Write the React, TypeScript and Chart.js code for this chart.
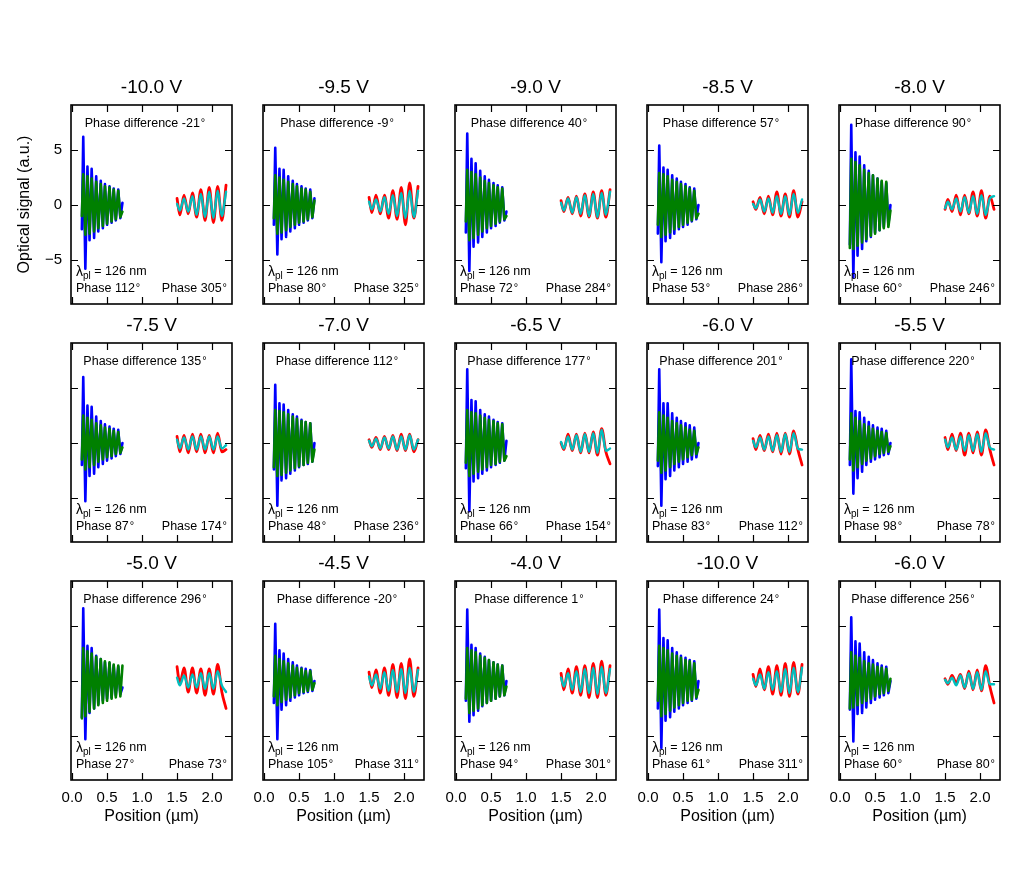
import React, { useEffect, useRef } from "react";
import { Chart, registerables } from "chart.js";

Chart.register(...registerables);

// Panel headings and annotations, row by row
const VOLTAGES = ["-10.0 V", "-9.5 V", "-9.0 V", "-8.5 V", "-8.0 V", "-7.5 V", "-7.0 V", "-6.5 V", "-6.0 V", "-5.5 V", "-5.0 V", "-4.5 V", "-4.0 V", "-10.0 V", "-6.0 V"];
const PHASE_DIFF = [-21, -9, 40, 57, 90, 135, 112, 177, 201, 220, 296, -20, 1, 24, 256];
const PHASE_NEAR = [112, 80, 72, 53, 60, 87, 48, 66, 83, 98, 27, 105, 94, 61, 60];
const PHASE_FAR = [305, 325, 284, 286, 246, 174, 236, 154, 112, 78, 73, 311, 301, 311, 80];
const LAMBDA_PL_NM = 126;

const X_TICKS = [0, 0.5, 1.0, 1.5, 2.0];
const Y_TICKS = [-5, 0, 5];

// Positions (µm) of the sampled extrema of the near-field and far-field traces
const NEAR_X = [0.14, 0.16, 0.19, 0.22, 0.25, 0.28, 0.315, 0.345, 0.375, 0.41, 0.44, 0.47, 0.5, 0.535, 0.565, 0.595, 0.625, 0.66, 0.69, 0.72];
const FAR_X = [1.5, 1.54, 1.6, 1.66, 1.72, 1.78, 1.84, 1.9, 1.96, 2.02, 2.08, 2.14, 2.2];

// Measured near-field signal (blue)
const BLUE = [
  [-2.2, 6.2, -5.8, 3.5, -3.2, 3.3, -3.0, 2.6, -2.4, 2.2, -2.1, 1.9, -1.8, 1.7, -1.6, 1.5, -1.4, 1.4, -1.2, 0.2],
  [-1.8, 5.2, -4.5, 3.3, -3.1, 3.2, -2.9, 2.6, -2.4, 2.2, -2.1, 1.9, -1.8, 1.7, -1.6, 1.5, -1.4, 1.4, -1.2, 0.6],
  [-2.5, 6.5, -6.0, 4.2, -3.8, 3.8, -3.4, 3.1, -2.9, 2.6, -2.5, 2.3, -2.1, 2.0, -1.9, 1.8, -1.6, 1.6, -1.4, -0.6],
  [-2.6, 5.4, -5.2, 3.4, -3.3, 3.2, -3.0, 2.7, -2.6, 2.4, -2.2, 2.1, -2.0, 1.9, -1.8, 1.6, -1.5, 1.5, -1.3, 0.0],
  [-3.6, 7.3, -6.6, 4.8, -4.6, 4.4, -4.0, 3.6, -3.3, 3.1, -2.9, 2.7, -2.5, 2.4, -2.3, 2.1, -2.0, 2.0, -1.8, 0.0],
  [-2.0, 6.0, -5.3, 3.4, -3.0, 3.3, -2.8, 2.4, -2.2, 2.0, -1.9, 1.7, -1.6, 1.5, -1.4, 1.3, -1.2, 1.2, -1.0, 0.0],
  [-2.4, 5.3, -5.7, 3.6, -3.4, 3.5, -3.2, 3.0, -2.8, 2.6, -2.5, 2.4, -2.2, 2.1, -2.0, 1.9, -1.9, 1.8, -1.7, 0.0],
  [-2.3, 6.7, -6.2, 3.9, -3.5, 3.8, -3.2, 3.0, -2.8, 2.6, -2.5, 2.4, -2.2, 2.1, -2.0, 1.9, -1.8, 1.8, -1.6, 0.2],
  [-2.1, 6.7, -5.7, 3.6, -3.3, 3.6, -3.0, 2.7, -2.5, 2.3, -2.2, 2.0, -1.9, 1.8, -1.7, 1.6, -1.5, 1.4, -1.3, 0.0],
  [-2.0, 7.6, -4.6, 2.9, -3.2, 2.8, -2.6, 2.3, -2.0, 1.9, -1.7, 1.6, -1.5, 1.4, -1.3, 1.3, -1.1, 1.1, -1.0, 0.0],
  [-3.3, 6.6, -5.3, 3.2, -2.9, 3.0, -2.5, 2.3, -2.1, 2.0, -1.8, 1.7, -1.6, 1.6, -1.5, 1.4, -1.3, 1.3, -1.2, -0.6],
  [-2.0, 5.2, -5.3, 2.8, -2.6, 2.5, -2.2, 2.0, -1.8, 1.7, -1.5, 1.4, -1.3, 1.2, -1.1, 1.1, -1.0, 1.0, -0.9, 0.0],
  [-1.8, 6.5, -3.7, 3.3, -3.1, 3.0, -2.7, 2.5, -2.3, 2.2, -2.0, 1.9, -1.8, 1.7, -1.6, 1.5, -1.4, 1.4, -1.3, 0.0],
  [-2.5, 6.5, -6.1, 3.9, -3.6, 3.7, -3.3, 3.0, -2.8, 2.6, -2.5, 2.3, -2.2, 2.1, -2.0, 1.9, -1.8, 1.8, -1.6, 0.0],
  [-2.6, 5.8, -5.5, 3.6, -3.0, 3.4, -2.9, 2.6, -2.4, 2.2, -2.0, 1.9, -1.7, 1.6, -1.5, 1.4, -1.3, 1.3, -1.1, 0.0],
];

// Near-field fit (green)
const GREEN = [
  [-1.0, 2.8, -2.7, 2.6, -2.6, 2.4, -2.4, 2.1, -2.1, 1.9, -1.9, 1.7, -1.7, 1.6, -1.5, 1.4, -1.3, 1.3, -1.1, -0.6],
  [-1.2, 2.7, -2.6, 2.5, -2.5, 2.3, -2.3, 2.1, -2.0, 1.9, -1.8, 1.7, -1.6, 1.5, -1.5, 1.4, -1.3, 1.2, -1.1, 0.4],
  [-1.5, 3.2, -3.2, 3.0, -3.0, 2.8, -2.7, 2.5, -2.4, 2.2, -2.1, 2.0, -1.9, 1.8, -1.7, 1.6, -1.5, 1.5, -1.3, -1.0],
  [-1.8, 2.9, -2.9, 2.8, -2.7, 2.6, -2.5, 2.3, -2.2, 2.1, -2.0, 1.9, -1.8, 1.7, -1.6, 1.5, -1.4, 1.3, -1.2, -0.8],
  [-3.9, 4.2, -4.0, 3.9, -3.7, 3.6, -3.4, 3.2, -3.1, 2.9, -2.8, 2.7, -2.6, 2.4, -2.3, 2.2, -2.1, 2.1, -2.0, -0.5],
  [-1.5, 2.5, -2.4, 2.3, -2.2, 2.1, -2.0, 1.8, -1.7, 1.6, -1.5, 1.4, -1.3, 1.3, -1.2, 1.1, -1.0, 1.0, -0.9, -0.4],
  [-2.2, 3.0, -3.0, 2.9, -2.9, 2.8, -2.7, 2.6, -2.5, 2.4, -2.3, 2.2, -2.1, 2.0, -2.0, 1.9, -1.8, 1.8, -1.7, -0.6],
  [-1.8, 3.0, -3.0, 2.8, -2.8, 2.7, -2.6, 2.5, -2.4, 2.3, -2.2, 2.1, -2.0, 2.0, -1.9, 1.8, -1.7, 1.7, -1.6, -1.2],
  [-1.6, 2.8, -2.7, 2.5, -2.5, 2.3, -2.2, 2.0, -1.9, 1.8, -1.7, 1.6, -1.5, 1.4, -1.3, 1.2, -1.1, 1.1, -1.0, -0.4],
  [-1.5, 2.7, -2.5, 2.3, -2.2, 2.0, -1.9, 1.7, -1.6, 1.5, -1.4, 1.3, -1.2, 1.1, -1.0, 1.0, -0.9, 0.9, -0.8, -0.3],
  [-3.4, 3.0, -3.2, 2.7, -2.8, 2.5, -2.5, 2.2, -2.2, 2.0, -2.0, 1.8, -1.8, 1.7, -1.6, 1.5, -1.5, 1.4, -1.4, 1.4],
  [-1.4, 2.3, -2.2, 2.0, -1.9, 1.8, -1.7, 1.6, -1.5, 1.4, -1.3, 1.2, -1.1, 1.1, -1.0, 0.9, -0.9, 0.9, -0.8, -0.2],
  [-1.6, 3.0, -2.9, 2.8, -2.7, 2.6, -2.5, 2.3, -2.2, 2.1, -2.0, 1.9, -1.8, 1.7, -1.6, 1.5, -1.4, 1.4, -1.3, -0.5],
  [-1.8, 3.2, -3.2, 3.0, -3.0, 2.8, -2.7, 2.5, -2.4, 2.3, -2.2, 2.1, -2.0, 1.9, -1.8, 1.8, -1.7, 1.6, -1.5, -0.8],
  [-2.5, 2.6, -2.4, 2.3, -2.2, 2.1, -2.0, 1.8, -1.8, 1.6, -1.6, 1.5, -1.4, 1.3, -1.2, 1.2, -1.1, 1.1, -0.9, 0.2],
];

// Measured far-field signal (red)
const RED = [
  [0.6, -0.9, 0.9, -0.8, 1.1, -1.1, 1.4, -1.4, 1.6, -1.6, 1.7, -1.4, 1.8],
  [0.7, -0.7, 0.9, -0.8, 0.9, -1.2, 1.3, -1.3, 1.6, -1.8, 2.0, -1.2, 1.7],
  [0.4, -0.6, 0.7, -0.8, 0.8, -1.0, 1.0, -1.1, 1.2, -1.2, 1.3, -1.1, 1.4],
  [0.3, -0.4, 0.7, -0.8, 0.8, -0.9, 1.2, -1.0, 1.0, -1.1, 1.3, -1.1, 0.3],
  [-0.4, 0.5, -0.6, 0.9, -0.9, 0.9, -0.8, 1.2, -1.0, 1.3, -1.2, 0.8, -0.4],
  [0.6, -0.8, 0.7, -0.9, 0.8, -0.8, 0.8, -0.9, 0.7, -0.9, 0.9, -0.8, -0.6],
  [0.3, -0.4, 0.5, -0.6, 0.6, -0.6, 0.7, -0.7, 0.8, -0.7, 0.8, -0.8, 0.3],
  [0.0, -0.6, 0.8, -0.7, 0.8, -0.9, 0.9, -0.9, 1.0, -1.1, 1.3, -0.8, -1.9],
  [0.4, -0.6, 0.7, -0.7, 0.8, -0.8, 0.9, -1.0, 0.9, -1.0, 1.1, -0.6, -2.0],
  [0.5, -0.6, 0.8, -0.7, 0.9, -1.1, 0.9, -0.9, 1.0, -1.1, 1.2, -0.6, -2.0],
  [1.3, -0.3, 1.2, -1.0, 1.2, -1.1, 1.1, -1.3, 1.1, -1.2, 1.5, -1.0, -2.5],
  [0.8, -0.6, 1.0, -1.1, 1.2, -1.3, 1.5, -1.5, 1.6, -1.6, 2.0, -1.4, 1.2],
  [0.7, -0.8, 1.1, -1.1, 1.3, -1.3, 1.4, -1.5, 1.6, -1.5, 1.8, -1.3, 1.4],
  [0.6, -0.5, 1.1, -0.8, 1.3, -1.2, 1.4, -1.3, 1.6, -1.4, 1.7, -1.2, 1.5],
  [0.2, -0.3, 0.5, -0.2, 0.6, -0.7, 0.9, -0.8, 1.0, -0.9, 1.4, -0.5, -2.0],
];

// Far-field fit (cyan)
const CYAN = [
  [0.1, -0.5, 0.6, -0.6, 0.8, -0.9, 1.0, -1.1, 1.2, -1.2, 1.3, -1.0, 1.2],
  [0.3, -0.4, 0.5, -0.6, 0.7, -0.8, 0.9, -1.0, 1.1, -1.2, 1.3, -1.1, 1.3],
  [0.2, -0.5, 0.6, -0.7, 0.7, -0.8, 0.9, -1.0, 1.0, -1.1, 1.1, -0.9, 1.2],
  [0.1, -0.3, 0.5, -0.6, 0.6, -0.7, 0.8, -0.8, 0.8, -0.9, 1.0, -0.7, 0.5],
  [-0.3, 0.3, -0.4, 0.6, -0.6, 0.7, -0.7, 0.8, -0.8, 0.9, -0.9, 0.6, 0.8],
  [0.3, -0.5, 0.5, -0.6, 0.6, -0.6, 0.6, -0.6, 0.6, -0.6, 0.6, -0.5, -0.2],
  [0.2, -0.3, 0.4, -0.5, 0.5, -0.5, 0.6, -0.6, 0.6, -0.6, 0.7, -0.6, 0.3],
  [0.1, -0.5, 0.6, -0.6, 0.7, -0.8, 0.8, -0.8, 0.9, -0.9, 1.2, -0.7, -0.5],
  [0.2, -0.4, 0.5, -0.6, 0.6, -0.7, 0.7, -0.8, 0.8, -0.8, 0.9, -0.5, -0.6],
  [0.3, -0.4, 0.5, -0.6, 0.6, -0.7, 0.7, -0.7, 0.8, -0.8, 0.9, -0.4, -0.6],
  [0.3, -0.4, 0.5, -0.6, 0.6, -0.6, 0.7, -0.7, 0.7, -0.7, 0.9, -0.4, -1.0],
  [0.4, -0.4, 0.6, -0.7, 0.8, -0.9, 1.0, -1.0, 1.1, -1.1, 1.2, -1.0, 1.0],
  [0.3, -0.5, 0.7, -0.8, 0.9, -1.0, 1.1, -1.1, 1.2, -1.2, 1.3, -1.1, 1.1],
  [0.2, -0.4, 0.6, -0.7, 0.8, -0.8, 0.9, -1.0, 1.1, -1.1, 1.2, -1.0, 1.2],
  [0.1, -0.2, 0.3, -0.4, 0.5, -0.6, 0.7, -0.7, 0.8, -0.8, 0.9, -0.3, -0.3],
];

// Axis ranges
const X_MIN = -0.015;
const X_MAX = 2.285;
const Y_MIN = -9.0;
const Y_MAX = 9.09;

// Grid geometry (page pixels)
const COLS = 5;
const PLOT_LEFT0 = 71;
const PLOT_TOP0 = 105;
const COL_STEP = 192;
const ROW_STEP = 238;
const PLOT_W = 161;
const PLOT_H = 199;
const PAD_LEFT = 70;
const PAD_RIGHT = 10;
const PAD_TOP = 40;
const PAD_BOTTOM = 50;
const TICK_LEN = 7;

const FONT = "'Liberation Sans', Arial, Helvetica, sans-serif";

const deg = "\u00b0";
const fmtTick = (v: number) => (v < 0 ? "\u2212" + Math.abs(v) : String(v));

// Draws "text" followed by a raised degree ring; align is 'left', 'right' or 'center'
function textWithDegree(ctx: any, text: string, x: number, y: number, align: string, size: number) {
  ctx.font = `${size}px ${FONT}`;
  const wMain = ctx.measureText(text).width;
  const ringSize = Math.round(size * 0.9);
  ctx.font = `${ringSize}px ${FONT}`;
  const wRing = ctx.measureText(deg).width + 1;
  const total = wMain + wRing;
  let x0 = x;
  if (align === "right") x0 = x - total;
  else if (align === "center") x0 = x - total / 2;
  ctx.textAlign = "left";
  ctx.font = `${size}px ${FONT}`;
  ctx.fillText(text, x0, y);
  ctx.font = `${ringSize}px ${FONT}`;
  ctx.fillText(deg, x0 + wMain + 1, y - 1);
}

function panelDecor(i: number) {
  return {
    id: "panelDecor" + i,
    afterDraw(chart: any) {
      const { ctx, chartArea } = chart;
      const { left, top, right, bottom } = chartArea;
      const xs = chart.scales.x;
      const ys = chart.scales.y;
      ctx.save();
      ctx.strokeStyle = "#000";
      ctx.lineWidth = 1.6;
      ctx.strokeRect(left, top, right - left, bottom - top);

      // inward tick marks on all four sides
      ctx.lineWidth = 1.2;
      ctx.beginPath();
      X_TICKS.forEach((v) => {
        const px = Math.round(xs.getPixelForValue(v)) + 0.5;
        ctx.moveTo(px, bottom);
        ctx.lineTo(px, bottom - TICK_LEN);
        ctx.moveTo(px, top);
        ctx.lineTo(px, top + TICK_LEN);
      });
      Y_TICKS.forEach((v) => {
        const py = Math.round(ys.getPixelForValue(v)) + 0.5;
        ctx.moveTo(left, py);
        ctx.lineTo(left + TICK_LEN, py);
        ctx.moveTo(right, py);
        ctx.lineTo(right - TICK_LEN, py);
      });
      ctx.stroke();

      ctx.fillStyle = "#000";
      // panel heading
      ctx.font = `19px ${FONT}`;
      ctx.textAlign = "center";
      ctx.textBaseline = "middle";
      ctx.fillText(VOLTAGES[i], (left + right) / 2, top - 17);

      // annotations
      textWithDegree(ctx, `Phase difference ${PHASE_DIFF[i]}`, left + 74, top + 19, "center", 12.5);

      let x = left + 5;
      const yl = top + 167;
      ctx.textAlign = "left";
      ctx.font = `14px ${FONT}`;
      ctx.fillText("\u03bb", x, yl);
      x += ctx.measureText("\u03bb").width;
      ctx.font = `10px ${FONT}`;
      ctx.fillText("pl", x, yl + 4);
      x += ctx.measureText("pl").width;
      ctx.font = `12.5px ${FONT}`;
      ctx.fillText(` = ${LAMBDA_PL_NM} nm`, x, yl);

      textWithDegree(ctx, `Phase ${PHASE_NEAR[i]}`, left + 5, top + 184, "left", 12.5);
      textWithDegree(ctx, `Phase ${PHASE_FAR[i]}`, right - 5, top + 184, "right", 12.5);
      ctx.restore();
    },
  };
}

function buildConfig(i: number): any {
  const row = Math.floor(i / COLS);
  const isBottom = row === 2;
  const isFirst = i === 0;
  const pts = (xs: number[], ys: number[]) => xs.map((x, j) => ({ x, y: ys[j] }));
  const smooth = { cubicInterpolationMode: "monotone" };
  return {
    type: "line",
    data: {
      datasets: [
        { label: "far-field fit", data: pts(FAR_X, CYAN[i]), borderColor: "#00bfbf", borderWidth: 2.4, ...smooth },
        { label: "far-field", data: pts(FAR_X, RED[i]), borderColor: "#ff0000", borderWidth: 2.8, ...smooth },
        { label: "near-field fit", data: pts(NEAR_X, GREEN[i]), borderColor: "#008000", borderWidth: 2.6 },
        { label: "near-field", data: pts(NEAR_X, BLUE[i]), borderColor: "#0000ff", borderWidth: 2.6 },
      ],
    },
    options: {
      animation: false,
      responsive: false,
      devicePixelRatio: 1,
      events: [],
      elements: {
        point: { radius: 0 },
        line: { tension: 0, fill: false, borderJoinStyle: "round", borderCapStyle: "round" },
      },
      layout: { padding: { top: PAD_TOP, right: PAD_RIGHT, left: 0, bottom: 0 } },
      plugins: { legend: { display: false }, tooltip: { enabled: false }, title: { display: false } },
      scales: {
        x: {
          type: "linear",
          position: "bottom",
          min: X_MIN,
          max: X_MAX,
          afterBuildTicks: (s: any) => {
            s.ticks = X_TICKS.map((v) => ({ value: v }));
          },
          afterFit: (s: any) => {
            s.height = PAD_BOTTOM;
          },
          grid: { display: false, drawTicks: false },
          border: { display: false },
          ticks: {
            display: isBottom,
            autoSkip: false,
            maxRotation: 0,
            padding: 9,
            color: "#000",
            font: { family: FONT, size: 15 },
            callback: (v: any) => Number(v).toFixed(1),
          },
          title: {
            display: isBottom,
            text: "Position (\u00b5m)",
            color: "#000",
            font: { family: FONT, size: 16 },
            padding: { top: 0, bottom: 4 },
          },
        },
        y: {
          type: "linear",
          position: "left",
          min: Y_MIN,
          max: Y_MAX,
          afterBuildTicks: (s: any) => {
            s.ticks = Y_TICKS.map((v) => ({ value: v }));
          },
          afterFit: (s: any) => {
            s.width = PAD_LEFT;
          },
          grid: { display: false, drawTicks: false },
          border: { display: false },
          ticks: {
            display: isFirst,
            autoSkip: false,
            padding: 9,
            color: "#000",
            font: { family: FONT, size: 15 },
            callback: (v: any) => fmtTick(Number(v)),
          },
          title: {
            display: isFirst,
            text: "Optical signal (a.u.)",
            color: "#000",
            font: { family: FONT, size: 16 },
            padding: { top: 14.4, bottom: 0 },
          },
        },
      },
    },
    plugins: [panelDecor(i)],
  };
}

export default function App() {
  const refs = useRef<(HTMLCanvasElement | null)[]>([]);

  useEffect(() => {
    const charts = refs.current.map((c, i) => (c ? new Chart(c, buildConfig(i)) : null));
    return () => charts.forEach((ch) => ch && ch.destroy());
  }, []);

  const w = PAD_LEFT + PLOT_W + PAD_RIGHT;
  const h = PAD_TOP + PLOT_H + PAD_BOTTOM;

  return (
    <div style={{ position: "relative", width: 1013, height: 860, margin: "-8px 0 0 -8px", background: "#fff" }}>
      {VOLTAGES.map((_, i) => {
        const r = Math.floor(i / COLS);
        const c = i % COLS;
        const left = PLOT_LEFT0 + c * COL_STEP - PAD_LEFT;
        const top = PLOT_TOP0 + r * ROW_STEP - PAD_TOP;
        return (
          <canvas
            key={i}
            ref={(el) => {
              refs.current[i] = el;
            }}
            width={w}
            height={h}
            style={{ position: "absolute", left, top, width: w, height: h }}
          />
        );
      })}
    </div>
  );
}
